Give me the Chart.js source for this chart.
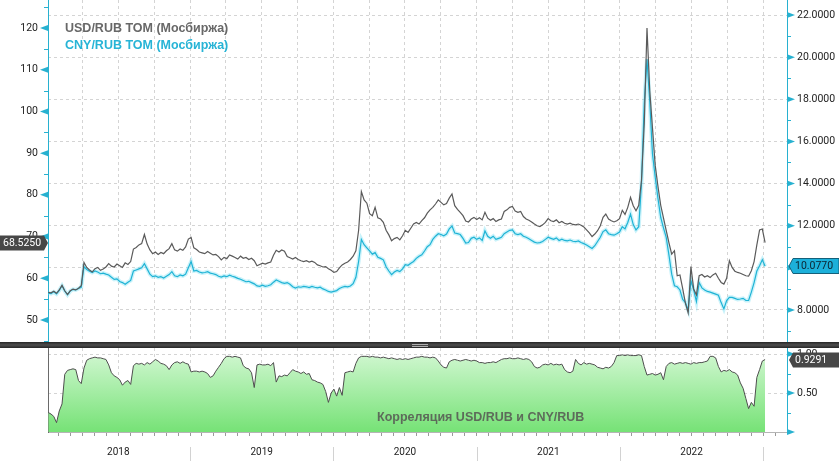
<!DOCTYPE html>
<html><head><meta charset="utf-8">
<script src="https://cdn.jsdelivr.net/npm/chart.js@4.4.1/dist/chart.umd.min.js"></script>
<style>
html,body{margin:0;padding:0;background:#fff;width:839px;height:461px;overflow:hidden;}
#wrap{position:relative;width:839px;height:461px;}
canvas{position:absolute;left:0;}
#top{top:0}
#bot{top:348px}
#sep{position:absolute;left:0;top:342px;width:839px;height:6px;background:linear-gradient(#262626,#4e4e4e 50%,#262626);}
#grip{position:absolute;left:412px;top:1.5px;width:16px;height:1px;border-top:1px solid #b0b0b0;border-bottom:1px solid #b0b0b0;}
.leg{position:absolute;font:bold 12.5px "Liberation Sans",Arial,sans-serif;white-space:nowrap;line-height:14px;}
</style></head>
<body><div id="wrap">
<canvas id="top" width="839" height="342"></canvas>
<div id="sep"><div id="grip"></div></div>
<canvas id="bot" width="839" height="113"></canvas>
<div class="leg" style="left:65px;top:21px;color:#686868">USD/RUB TOM (Мосбиржа)</div>
<div class="leg" style="left:65px;top:38px;color:#27b4d6">CNY/RUB TOM (Мосбиржа)</div>
<div class="leg" style="left:377px;top:410px;color:#5d6b5a">Корреляция USD/RUB и CNY/RUB</div>
</div>
<script>
// ---- data: weekly observations starting 5 Jan 2018 ----
const START_YEAR = 2018.011;           // first observation as fractional year
const WEEK = 7 / 365.25;               // one week in years
const usdRub = [
56.6,56.5,56.9,56.4,57.2,58.3,57.0,56.1,57.0,57.4,
57.2,57.6,58.2,63.8,62.6,62.0,61.5,62.3,62.6,61.9,
62.2,62.7,63.5,62.9,62.7,63.4,63.0,62.6,63.7,63.3,
64.0,67.0,67.4,68.0,68.3,70.5,68.2,66.8,65.9,66.3,
65.7,66.2,65.9,66.6,67.1,68.3,66.8,66.5,67.0,66.7,
67.5,69.4,69.8,67.3,66.9,66.3,66.1,65.9,66.4,66.0,
65.6,65.7,65.2,64.4,65.0,64.7,65.6,65.3,65.0,64.6,
65.3,64.8,65.0,64.5,64.8,64.2,63.0,63.3,63.6,63.4,
63.7,63.9,65.5,66.7,66.3,66.8,66.5,65.2,64.9,64.6,
65.0,64.5,64.2,64.0,64.2,63.9,64.1,63.8,63.2,63.0,
62.7,62.8,62.3,61.9,61.4,61.6,62.5,63.2,63.6,63.9,
64.5,65.3,66.6,71.5,80.8,78.8,78.0,75.5,75.0,77.0,
74.5,74.2,73.4,71.5,70.4,69.0,69.5,69.8,69.2,70.2,
71.5,71.0,72.0,73.0,73.4,73.0,73.8,74.5,75.6,76.4,
77.0,77.8,78.8,78.2,77.6,77.9,79.2,80.2,77.4,76.5,
75.8,75.0,73.7,73.5,74.2,74.6,74.1,74.5,74.0,75.8,
74.4,73.9,74.3,73.6,74.0,74.2,76.0,76.4,77.0,77.2,
76.1,75.8,76.0,74.8,74.2,73.9,73.5,73.0,72.6,72.4,
72.8,73.4,74.3,73.8,73.6,74.0,73.3,73.6,73.2,73.0,
73.2,72.9,72.8,73.0,72.7,72.3,71.6,70.9,70.0,70.6,
71.4,72.6,74.6,75.4,74.2,73.8,73.5,73.8,74.3,76.3,
75.3,77.0,79.4,77.4,76.2,77.5,83.5,97.0,120.0,105.0,
96.0,87.0,82.0,77.5,74.5,71.5,68.5,65.8,66.6,60.6,
60.8,57.5,54.0,51.7,62.8,57.4,56.0,60.6,60.9,60.3,
60.6,60.2,60.8,61.2,60.0,59.0,58.6,60.0,64.2,62.6,
61.7,61.4,61.2,60.9,60.6,60.5,61.8,64.0,68.0,71.6,
71.8,68.525];
const cnyRub = [
8.80,8.78,8.86,8.76,8.93,9.15,8.90,8.72,8.90,8.98,
8.95,9.02,9.08,10.05,9.92,9.84,9.78,9.85,9.80,9.72,
9.75,9.70,9.66,9.55,9.45,9.48,9.35,9.30,9.22,9.32,
9.40,9.85,9.90,9.95,10.00,10.20,9.95,9.70,9.58,9.62,
9.55,9.58,9.52,9.60,9.68,9.82,9.62,9.58,9.66,9.62,
9.70,10.00,10.30,9.85,9.88,9.80,9.76,9.78,9.82,9.75,
9.72,9.68,9.60,9.56,9.62,9.58,9.65,9.60,9.56,9.50,
9.46,9.40,9.34,9.36,9.30,9.24,9.14,9.12,9.18,9.12,
9.15,9.20,9.32,9.42,9.36,9.30,9.26,9.30,9.22,9.10,
9.04,9.10,9.08,9.12,9.10,9.06,9.12,9.08,9.05,9.08,
9.00,8.95,8.88,8.85,8.88,8.92,9.02,9.08,9.12,9.10,
9.14,9.25,9.55,10.30,11.35,11.10,10.95,10.80,10.65,10.72,
10.50,10.45,10.38,10.05,9.85,9.68,9.80,9.88,9.82,9.95,
10.15,10.12,10.22,10.30,10.45,10.55,10.62,10.80,11.00,11.10,
11.35,11.50,11.62,11.58,11.52,11.60,11.85,11.98,11.65,11.62,
11.58,11.40,11.18,11.20,11.40,11.45,11.35,11.42,11.30,11.75,
11.50,11.40,11.50,11.35,11.40,11.45,11.62,11.70,11.78,11.80,
11.62,11.58,11.62,11.50,11.45,11.38,11.30,11.22,11.18,11.20,
11.25,11.35,11.45,11.40,11.35,11.42,11.30,11.36,11.30,11.28,
11.32,11.26,11.24,11.28,11.20,11.15,11.08,11.00,10.92,11.05,
11.25,11.45,11.72,11.80,11.62,11.58,11.55,11.62,11.70,11.95,
11.85,12.15,12.55,12.05,11.80,11.95,14.00,17.80,19.90,17.90,
15.40,14.30,13.30,12.40,11.90,11.45,10.60,9.70,9.15,9.10,
8.95,8.50,8.35,8.00,9.40,8.95,8.40,9.30,9.05,8.95,
8.88,8.85,8.80,8.75,8.70,8.35,8.05,8.45,8.60,8.60,
8.55,8.50,8.52,8.55,8.45,8.45,8.85,9.30,9.85,10.10,
10.38,10.077];
const corrUsdCny = [
0.25,0.23,0.20,0.12,0.27,0.36,0.74,0.79,0.80,0.81,
0.80,0.66,0.62,0.82,0.92,0.94,0.95,0.96,0.95,0.95,
0.94,0.93,0.86,0.76,0.72,0.70,0.67,0.60,0.64,0.66,
0.61,0.85,0.88,0.87,0.88,0.86,0.89,0.87,0.90,0.93,
0.91,0.88,0.87,0.85,0.80,0.86,0.89,0.90,0.88,0.90,
0.88,0.87,0.77,0.78,0.78,0.77,0.78,0.77,0.75,0.70,
0.72,0.78,0.83,0.88,0.94,0.97,0.97,0.96,0.97,0.96,
0.95,0.85,0.82,0.81,0.76,0.57,0.86,0.87,0.86,0.86,
0.87,0.85,0.89,0.64,0.72,0.71,0.73,0.72,0.76,0.80,
0.78,0.77,0.75,0.77,0.74,0.75,0.67,0.66,0.64,0.63,
0.61,0.52,0.38,0.50,0.55,0.46,0.57,0.47,0.76,0.77,
0.78,0.77,0.88,0.95,0.97,0.97,0.97,0.96,0.97,0.96,
0.96,0.95,0.96,0.95,0.94,0.95,0.94,0.93,0.94,0.93,
0.94,0.93,0.94,0.95,0.96,0.96,0.97,0.96,0.96,0.95,
0.96,0.95,0.91,0.86,0.83,0.82,0.90,0.92,0.93,0.92,
0.91,0.92,0.93,0.92,0.91,0.92,0.91,0.89,0.89,0.88,
0.89,0.89,0.90,0.89,0.91,0.93,0.94,0.94,0.95,0.94,
0.94,0.95,0.94,0.93,0.94,0.93,0.90,0.84,0.82,0.83,
0.86,0.87,0.86,0.88,0.86,0.87,0.86,0.87,0.80,0.77,
0.76,0.78,0.93,0.88,0.86,0.89,0.87,0.88,0.87,0.86,
0.83,0.82,0.81,0.83,0.82,0.84,0.89,0.98,0.98,0.99,
0.98,0.99,0.98,0.98,0.98,0.99,0.98,0.84,0.73,0.74,
0.75,0.73,0.74,0.76,0.67,0.84,0.88,0.89,0.87,0.88,
0.89,0.88,0.89,0.88,0.87,0.89,0.88,0.89,0.89,0.90,
0.91,0.97,0.97,0.95,0.84,0.77,0.79,0.78,0.80,0.77,
0.76,0.73,0.63,0.56,0.43,0.30,0.38,0.33,0.70,0.80,
0.91,0.9291];
const usdTicks = [50,60,70,80,90,100,110,120];
const cnyTicks = [8,10,12,14,16,18,20,22];
const corrTicks = [0,0.5,1];
const years = [2018,2019,2020,2021,2022,2023];

// ---- setup ----
const XMIN = 2018.009, XMAX = 2023.166;
const CYAN_AXIS = '#27b1d0';
const GRID = '#d4d4d4';
Chart.defaults.font.family = 'Roboto, "Liberation Sans", sans-serif';
Chart.defaults.font.size = 10.5;
Chart.defaults.color = '#222';
Chart.defaults.animation = false;

const toXY = arr => arr.map((v, i) => ({x: START_YEAR + i * WEEK, y: v}));
const monthTicks = years.flatMap(y => Array.from({length: 12}, (_, m) => y + m / 12)).filter(v => v > XMIN && v < XMAX);
const monthOf = v => Math.round((v - Math.floor(v + 1e-6)) * 12) % 12;
const quarterTicks = monthTicks.filter(v => monthOf(v) % 3 === 0);
const usdMinor = [45, ...usdTicks.map(v => v + 5)];
const cnyMinor = [7, ...cnyTicks.map(v => v + 1)];
const corrMinor = [0.25, 0.75];

const setTicks = arr => s => { s.ticks = arr.map(v => ({value: v})); };
const fixW = w => s => { s.width = w; s.paddingTop = 0; s.paddingBottom = 0; };
const fixH = h => s => { s.height = h; s.paddingLeft = 0; s.paddingRight = 0; };

const axisDecor = {
  id: 'axisDecor',
  afterDraw(chart, args, opts) {
    const ctx = chart.ctx;
    (opts.axes || []).forEach(a => {
      const s = chart.scales[a.id];
      const x0 = a.side === 'left' ? s.right : s.left;
      const dir = a.side === 'left' ? -1 : 1;
      ctx.save();
      ctx.fillStyle = CYAN_AXIS; ctx.strokeStyle = CYAN_AXIS; ctx.lineWidth = 1;
      a.major.forEach(v => {
        const y = s.getPixelForValue(v);
        if (y < s.top - 2 || y > s.bottom + 2) return;
        ctx.beginPath(); ctx.moveTo(x0, y - 3); ctx.lineTo(x0 + dir * 8, y); ctx.lineTo(x0, y + 3); ctx.closePath(); ctx.fill();
      });
      a.minor.forEach(v => {
        const y = Math.round(s.getPixelForValue(v)) + 0.5;
        if (y < s.top || y > s.bottom) return;
        ctx.beginPath(); ctx.moveTo(x0, y); ctx.lineTo(x0 + dir * 4, y); ctx.stroke();
      });
      ctx.restore();
    });
  }
};
const lastTags = {
  id: 'lastTags',
  afterDraw(chart, args, opts) {
    const ctx = chart.ctx;
    (opts.items || []).forEach(it => {
      const s = chart.scales[it.axis];
      const y = Math.round(s.getPixelForValue(it.value));
      const h = 7.5;
      ctx.save();
      ctx.beginPath();
      if (it.side === 'left') {
        ctx.moveTo(0, y - h); ctx.lineTo(44, y - h); ctx.lineTo(48, y); ctx.lineTo(44, y + h); ctx.lineTo(0, y + h);
      } else {
        ctx.moveTo(839, y - h); ctx.lineTo(793, y - h); ctx.lineTo(789, y); ctx.lineTo(793, y + h); ctx.lineTo(839, y + h);
      }
      ctx.closePath();
      ctx.fillStyle = it.fill; ctx.fill();
      if (it.stroke) { ctx.strokeStyle = it.stroke; ctx.lineWidth = 1; ctx.stroke(); }
      ctx.fillStyle = it.color;
      ctx.font = '10.5px Roboto, "Liberation Sans", sans-serif';
      ctx.textBaseline = 'middle';
      ctx.textAlign = 'left';
      ctx.fillText(it.text, it.side === 'left' ? 3 : 795, y + 0.5);
      ctx.restore();
    });
  }
};
const yearSeps = {
  id: 'yearSeps',
  afterDraw(chart) {
    const s = chart.scales.x, ctx = chart.ctx;
    ctx.save(); ctx.strokeStyle = '#d2d2d2'; ctx.lineWidth = 1;
    years.forEach(y => {
      if (y <= XMIN || y >= XMAX) return;
      const x = Math.round(s.getPixelForValue(y)) + 0.5;
      ctx.beginPath(); ctx.moveTo(x, 99); ctx.lineTo(x, 113); ctx.stroke();
    });
    ctx.restore();
  }
};

new Chart(document.getElementById('top'), {
  type: 'line',
  data: {datasets: [
    {label: 'USD/RUB TOM', data: toXY(usdRub), yAxisID: 'yL', borderColor: '#5a5a5a', borderWidth: 1.2, pointRadius: 0, tension: 0},
    {label: 'CNY/RUB TOM', data: toXY(cnyRub), yAxisID: 'yR', borderColor: '#1fb3d5', borderWidth: 1.2, pointRadius: 0, tension: 0},
    {label: 'CNY glow', data: toXY(cnyRub), yAxisID: 'yR', borderColor: 'rgba(120,222,242,0.4)', borderWidth: 4, pointRadius: 0, tension: 0}
  ]},
  options: {
    responsive: false, devicePixelRatio: 1, animation: false,
    layout: {padding: 0},
    plugins: {legend: {display: false}, tooltip: {enabled: false},
      axisDecor: {axes: [
        {id: 'yL', side: 'left', major: usdTicks, minor: usdMinor},
        {id: 'yR', side: 'right', major: cnyTicks, minor: cnyMinor}]},
      lastTags: {items: [
        {axis: 'yL', side: 'left', value: usdRub[usdRub.length - 1], text: usdRub[usdRub.length - 1].toFixed(4), fill: '#474747', color: '#fff'},
        {axis: 'yR', side: 'right', value: cnyRub[cnyRub.length - 1], text: cnyRub[cnyRub.length - 1].toFixed(4), fill: '#1cb0da', color: '#0c2330', stroke: '#14607a'}]}
    },
    scales: {
      x: {type: 'linear', min: XMIN, max: XMAX, bounds: 'data',
        afterBuildTicks: setTicks(quarterTicks), afterFit: fixH(0),
        ticks: {display: false}, grid: {color: GRID, drawTicks: false}, border: {display: false, dash: [3, 3]}},
      yL: {type: 'linear', position: 'left', min: 44.72, max: 126.71, bounds: 'data',
        afterBuildTicks: setTicks(usdTicks), afterFit: fixW(48),
        ticks: {padding: 10, color: '#222', callback: v => String(v)},
        grid: {display: false, drawTicks: false}, border: {display: true, color: CYAN_AXIS}},
      yR: {type: 'linear', position: 'right', min: 6.48, max: 22.712, bounds: 'data',
        afterBuildTicks: setTicks(cnyTicks), afterFit: fixW(52),
        ticks: {padding: 10, color: '#222', callback: v => Number(v).toFixed(4)},
        grid: {color: GRID, drawTicks: false}, border: {display: true, color: CYAN_AXIS, dash: [3, 3]}}
    }
  },
  plugins: [axisDecor, lastTags]
});

new Chart(document.getElementById('bot'), {
  type: 'line',
  data: {datasets: [
    {label: 'Корреляция', data: toXY(corrUsdCny), yAxisID: 'y', borderColor: '#4e4e4e', borderWidth: 1, pointRadius: 0, tension: 0,
      fill: 'origin',
      backgroundColor: c => {
        const ca = c.chart.chartArea; if (!ca) return 'rgba(150,235,150,0.6)';
        const g = c.chart.ctx.createLinearGradient(0, ca.top, 0, ca.bottom);
        g.addColorStop(0, '#d6f8d6'); g.addColorStop(1, '#76e276'); return g;
      }}
  ]},
  options: {
    responsive: false, devicePixelRatio: 1, animation: false,
    layout: {padding: 0},
    plugins: {legend: {display: false}, tooltip: {enabled: false},
      axisDecor: {axes: [{id: 'y', side: 'right', major: corrTicks, minor: corrMinor}]},
      lastTags: {items: [
        {axis: 'y', side: 'right', value: corrUsdCny[corrUsdCny.length - 1], text: corrUsdCny[corrUsdCny.length - 1].toFixed(4), fill: '#474747', color: '#fff'}]}
    },
    scales: {
      x: {type: 'linear', min: XMIN, max: XMAX, bounds: 'data', position: 'bottom',
        afterBuildTicks: setTicks(monthTicks), afterFit: fixH(29),
        ticks: {autoSkip: false, maxRotation: 0, minRotation: 0, padding: 10, color: '#222', font: {size: 10},
          callback: v => monthOf(v) === 6 ? String(Math.floor(v)) : ''},
        grid: {color: c => (c.tick && monthOf(c.tick.value) % 3 === 0) ? GRID : 'rgba(0,0,0,0)', tickColor: '#9a9a9a', tickLength: 4},
        border: {display: true, color: '#b5b5b5', dash: [3, 3]}},
      yl: {type: 'linear', position: 'left', min: 0, max: 1.077, bounds: 'data', afterFit: fixW(48),
        ticks: {display: false}, grid: {display: false, drawTicks: false}, border: {display: true, color: '#6a6a6a'}},
      y: {type: 'linear', position: 'right', min: 0, max: 1.077, bounds: 'data',
        afterBuildTicks: setTicks(corrTicks), afterFit: fixW(52),
        ticks: {padding: 10, color: '#222', callback: v => v === 0 ? '' : Number(v).toFixed(2)},
        grid: {color: c => (c.tick && c.tick.value === 0) ? 'rgba(0,0,0,0)' : GRID, drawTicks: false},
        border: {display: true, color: CYAN_AXIS, dash: [3, 3]}}
    }
  },
  plugins: [axisDecor, lastTags, yearSeps]
});
</script>
</body></html>
